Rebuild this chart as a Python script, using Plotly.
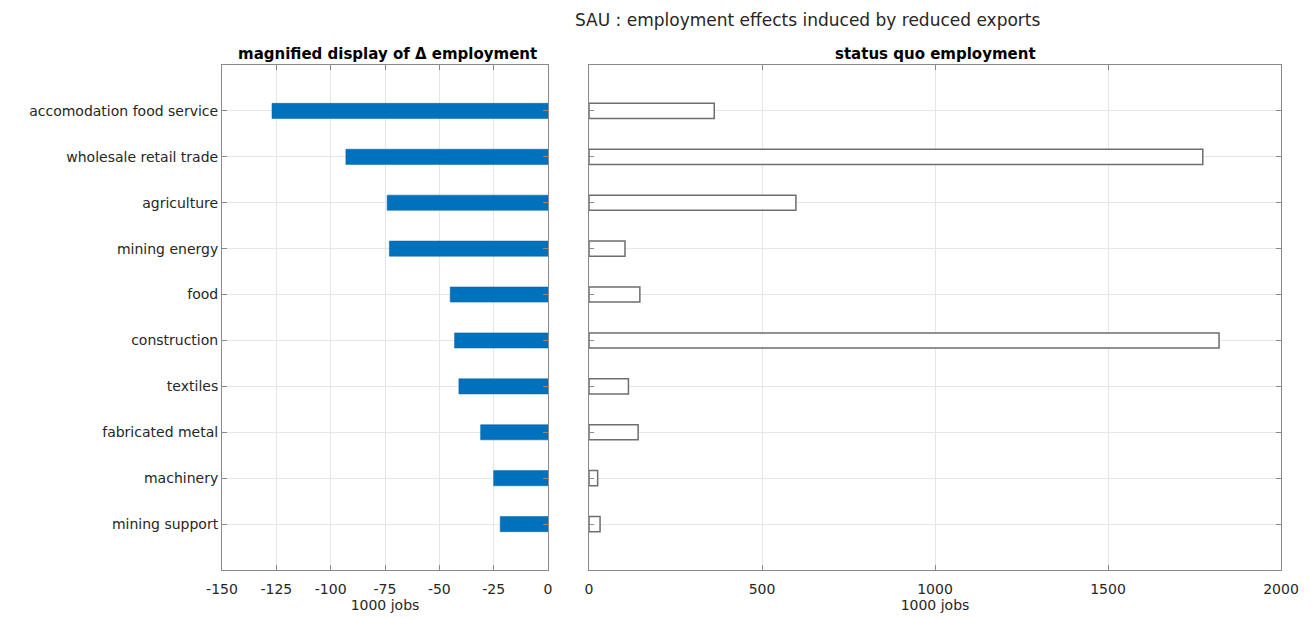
import plotly.graph_objects as go

# Sectors, ordered top to bottom
sectors = [
    "accomodation food service",
    "wholesale retail trade",
    "agriculture",
    "mining energy",
    "food",
    "construction",
    "textiles",
    "fabricated metal",
    "machinery",
    "mining support",
]
# Change in employment (1000 jobs)
delta_employment = [-127, -93, -74, -73, -45, -43, -41, -31, -25, -22]
# Status quo employment (1000 jobs)
status_quo = [362, 1774, 598, 104, 147, 1821, 114, 142, 25, 32]

left_ticks = [-150, -125, -100, -75, -50, -25, 0]
right_ticks = [0, 500, 1000, 1500, 2000]

W, H = 1311, 619
positions = list(range(1, len(sectors) + 1))

fig = go.Figure()
fig.add_trace(go.Bar(
    x=delta_employment, y=positions, orientation="h", width=0.33,
    marker=dict(color="#0072BD", line=dict(color="#0060a0", width=0.5)),
    xaxis="x", yaxis="y", showlegend=False,
))
fig.add_trace(go.Bar(
    x=status_quo, y=positions, orientation="h", width=0.33,
    marker=dict(color="white", line=dict(color="#6e6e6e", width=1.5)),
    xaxis="x2", yaxis="y2", showlegend=False,
))

font = dict(family="DejaVu Sans", size=14, color="#262626")
axis_common = dict(
    showgrid=True, gridcolor="#e6e6e6", gridwidth=1,
    showline=True, linecolor="#8a8a8a", linewidth=1, mirror="ticks",
    ticks="inside", ticklen=5, tickcolor="#8a8a8a",
    zeroline=False, tickfont=font, automargin=False,
)
title_font = dict(family="DejaVu Sans", size=14, color="#262626")

x1d = [222 / W, 548 / W]
x2d = [589 / W, 1281 / W]
yd = [1 - 570 / H, 1 - 65 / H]

fig.update_layout(
    width=W, height=H,
    margin=dict(l=0, r=0, t=0, b=0),
    paper_bgcolor="white", plot_bgcolor="white",
    font=font,
    xaxis=dict(domain=x1d, range=[-150, 0], tickvals=left_ticks,
               ticktext=[str(v) for v in left_ticks], ticklabelstandoff=6,
               title=dict(text="1000 jobs", font=title_font, standoff=4),
               anchor="y", **axis_common),
    yaxis=dict(domain=yd, range=[11, 0], tickvals=positions, ticktext=sectors,
               anchor="x", **axis_common),
    xaxis2=dict(domain=x2d, range=[0, 2000], tickvals=right_ticks,
                ticktext=[str(v) for v in right_ticks], ticklabelstandoff=6,
                title=dict(text="1000 jobs", font=title_font, standoff=4),
                anchor="y2", **axis_common),
    yaxis2=dict(domain=yd, range=[11, 0], tickvals=positions, showticklabels=False,
                anchor="x2", **axis_common),
    annotations=[
        dict(text="SAU : employment effects induced by reduced exports",
             x=808 / W, y=1 - 20 / H, xref="paper", yref="paper",
             showarrow=False, xanchor="center", yanchor="middle",
             font=dict(family="DejaVu Sans", size=17, color="#262626")),
        dict(text="<b>magnified display of Δ employment</b>",
             x=387 / W, y=1 - 54 / H, xref="paper", yref="paper",
             showarrow=False, xanchor="center", yanchor="middle",
             font=dict(family="DejaVu Sans", size=15, color="#000000")),
        dict(text="<b>status quo employment</b>",
             x=(x2d[0] + x2d[1]) / 2, y=1 - 54 / H, xref="paper", yref="paper",
             showarrow=False, xanchor="center", yanchor="middle",
             font=dict(family="DejaVu Sans", size=15, color="#000000")),
    ],
)

fig.write_html("out.html")
